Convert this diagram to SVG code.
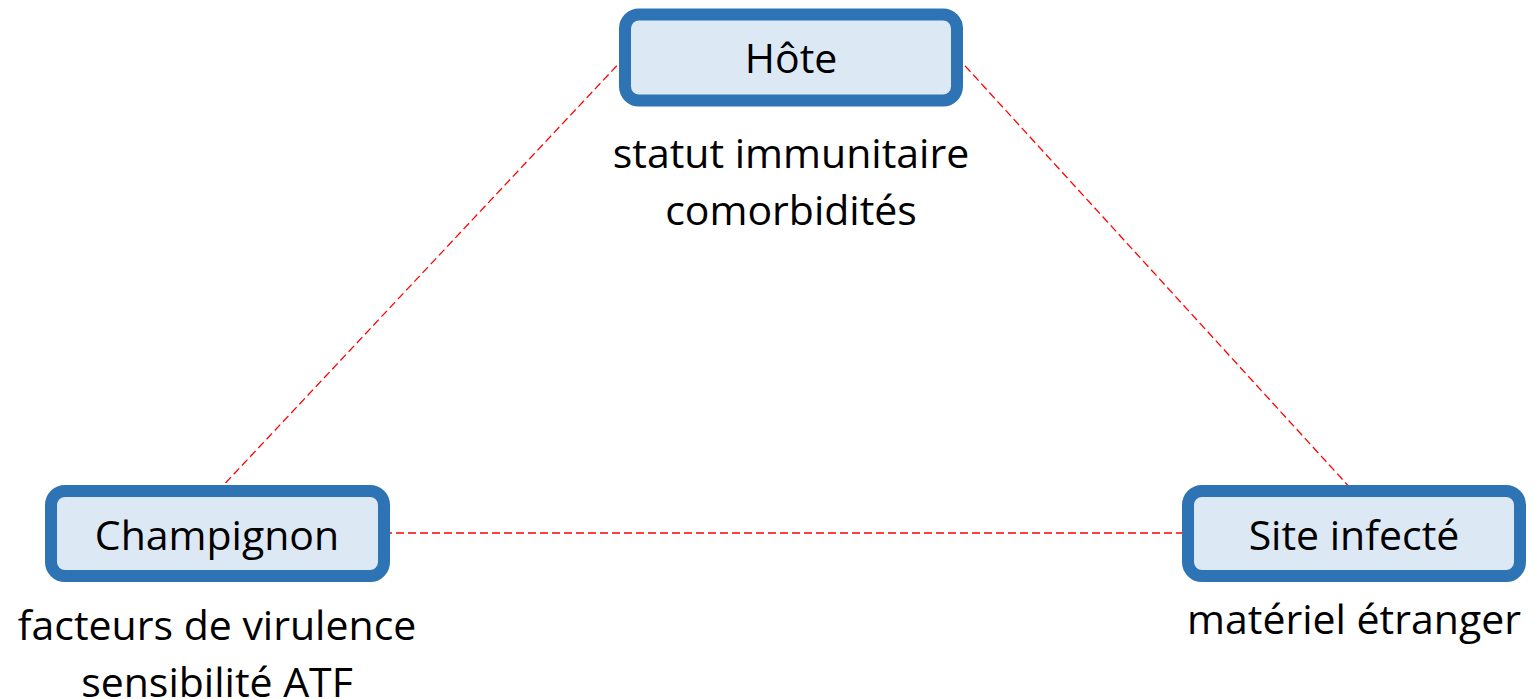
<svg xmlns="http://www.w3.org/2000/svg" width="1534" height="699" viewBox="0 0 1534 699">
<style>
.box{fill:#dde8f5;stroke:#2e74b5;stroke-width:12}
.t{font-family:"Open Sans","Noto Sans",sans-serif;font-size:41px;fill:#000;text-anchor:middle}
.c{stroke:#ff0000;stroke-width:1.3;stroke-dasharray:8 4;fill:none}
</style>
<rect width="1534" height="699" fill="#fff"/>
<g id="connectors">
<line class="c" x1="625" y1="57" x2="218" y2="491"/>
<line class="c" x1="957" y1="57" x2="1353" y2="491"/>
<line class="c" x1="384" y1="533" x2="1188" y2="533"/>
</g>
<g id="hote">
<rect class="box" x="625" y="14.5" width="332" height="86" rx="14"/>
<text class="t" x="791" y="73">Hôte</text>
<text class="t" x="791" y="168">statut immunitaire</text>
<text class="t" x="791" y="225">comorbidités</text>
</g>
<g id="champignon">
<rect class="box" x="51" y="491" width="333" height="85" rx="14"/>
<text class="t" x="217" y="550">Champignon</text>
<text class="t" x="217" y="640">facteurs de virulence</text>
<text class="t" x="217" y="697">sensibilité ATF</text>
</g>
<g id="site">
<rect class="box" x="1188" y="491" width="332" height="85" rx="14"/>
<text class="t" x="1354" y="550">Site infecté</text>
<text class="t" x="1354" y="634">matériel étranger</text>
</g>
</svg>
